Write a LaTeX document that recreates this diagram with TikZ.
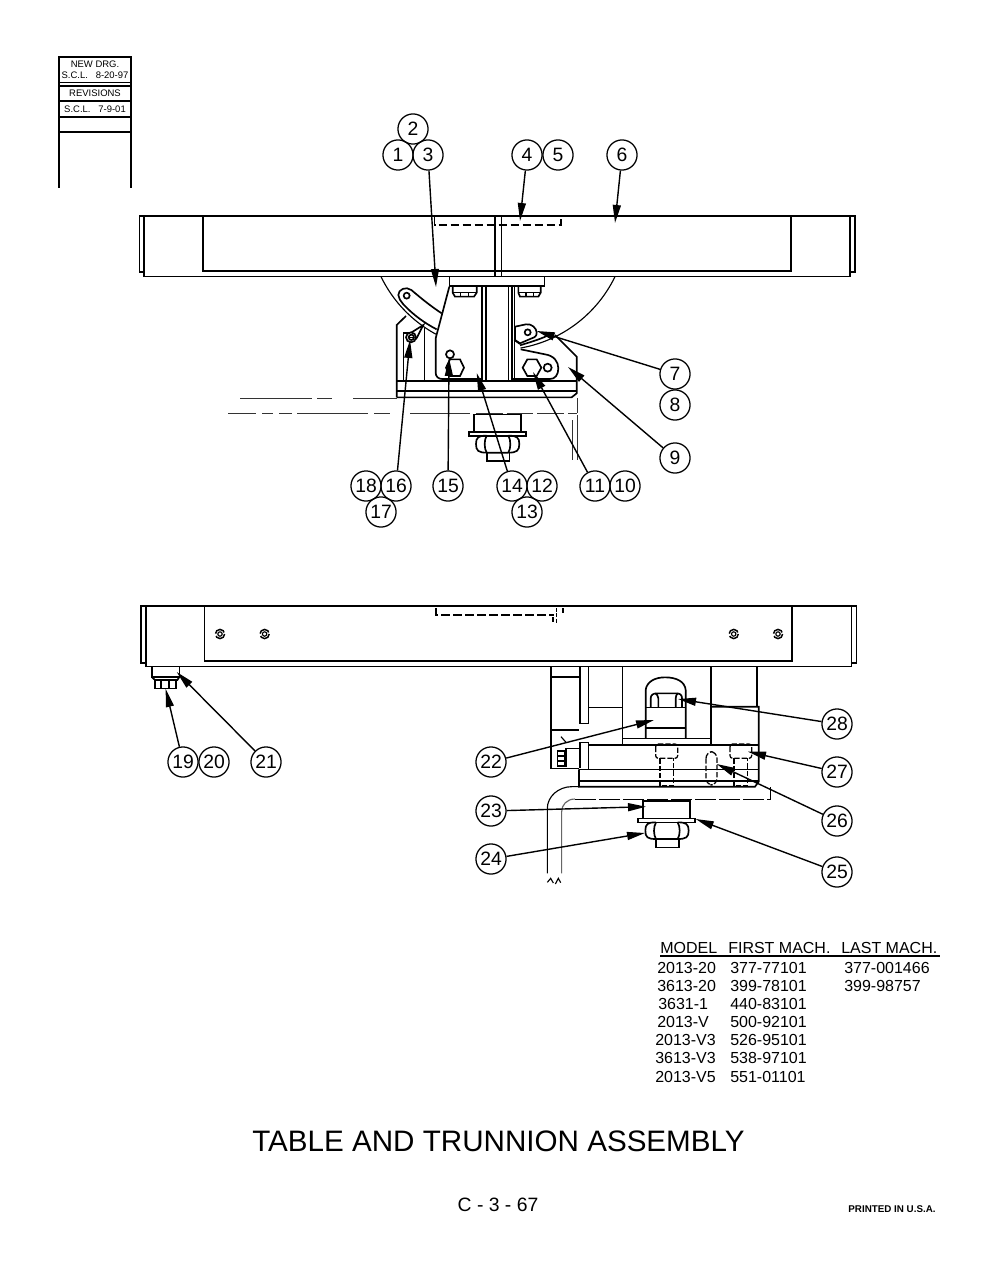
\documentclass[tikz,border=0pt]{standalone}
\usepackage{fontspec}
\setmainfont{Liberation Sans}
\usetikzlibrary{arrows.meta}
\tikzset{
  heavy/.style={line width=1.25pt,line join=miter},
  mid/.style={line width=0.85pt},
  thin/.style={line width=0.45pt,black!80},
  hidden/.style={line width=0.95pt,dash pattern=on 6.5pt off 2.5pt},
  hiddenb/.style={line width=0.95pt,dash pattern=on 4pt off 1.5pt},
  ctr/.style={line width=0.55pt,black!80},
  bub/.style={circle,draw,line width=0.95pt,minimum size=22.6pt,inner sep=0pt,font=\fontsize{14.5}{14.5}\selectfont},
  arr/.style={line width=1.05pt,-{Triangle[length=13.5pt,width=6pt]}},
  hdr/.style={font=\fontsize{7.1}{7.5}\selectfont,inner sep=0pt},
  tbl/.style={font=\fontsize{12}{12}\selectfont,inner sep=0pt,anchor=base west},
  zoomA/.style={shift={(370,260)},x=0.25pt,y=-0.25pt},
  zoomB/.style={shift={(530,660)},x=0.25pt,y=-0.25pt},
  zoomC/.style={shift={(130,595)},x=0.25pt,y=-0.25pt},
}
\begin{document}
\begin{tikzpicture}[x=0.75pt,y=-0.75pt]
\path[use as bounding box,fill=white] (0,0) rectangle (995,1287);

% revision block
\draw[heavy] (59,188) -- (59,57) -- (131,57) -- (131,188);
\foreach \yy in {82.5,86,100.7,116.7,132.3} \draw[heavy] (59,\yy) -- (131,\yy);
\node[hdr] (h1) at (95,64) {NEW DRG.};
\node[hdr] (h2) at (95,75.5) {S.C.L.\ \ \ 8-20-97};
\node[hdr] (h3) at (95,93) {REVISIONS};
\node[hdr] (h4) at (95,109) {S.C.L.\ \ \ 7-9-01};

% upper view: table
\draw[heavy] (144,216) -- (139.5,216) -- (139.5,272) -- (144,272);
\draw[heavy] (850,216) -- (855,216) -- (855,272) -- (850,272);
\draw[heavy] (139.5,216) -- (855,216);
\draw[heavy] (144,216) -- (144,276.5) -- (850,276.5) -- (850,216);
\draw[heavy] (203,216) -- (203,271) -- (791,271) -- (791,216);
\draw[heavy] (495,216) -- (495,276);
\draw[heavy] (501.5,216) -- (501.5,276);
\draw[hidden] (434.5,217) -- (434.5,225) -- (561,225) -- (561,217);

% upper view: swing circle
\draw[mid,domain=118.5:154.2,samples=30,variable=\a] plot ({498+130*cos(\a)},{220+130*sin(\a)});
\draw[mid,domain=26:80,samples=30,variable=\a] plot ({498+130*cos(\a)},{220+130*sin(\a)});

% upper view: center lines
\draw[ctr] (240,398) -- (312,398) (317,398) -- (332,398) (353,398) -- (397,398);
\draw[ctr] (228,413) -- (256,413) (262,413) -- (273,413) (279,413) -- (292,413) (297,413) -- (368,413) (374,413) -- (390,413) (410,413) -- (470,413);
\draw[ctr,dash pattern=on 20pt off 3pt] (476,413) -- (577,413);
\draw[ctr] (577,398) -- (577,413) (577,415) -- (577,460) (572,420) -- (572,460);

% upper view: trunnion, drawn in zoom coordinates
\begin{scope}[zoomA]
  \draw[heavy,fill=white] (238,50) rectangle (523,78);
  \draw[heavy] (248,80) -- (248,98) -- (255,110) -- (312,110) -- (320,98) -- (320,80);
  \draw[mid] (248,97) -- (320,97) (272,97) -- (272,110) (296,97) -- (296,110);
  \draw[heavy] (445,80) -- (445,98) -- (450,110) -- (505,110) -- (512,98) -- (512,80);
  \draw[mid] (445,97) -- (512,97) (468,97) -- (468,110) (490,97) -- (490,110);
  \draw[heavy] (248,80) -- (320,80) (445,80) -- (512,80);
  % column
  \foreach \xx in {335,347,415,425,433} \draw[heavy] (\xx,78) -- (\xx,360);
  % body
  \draw[heavy] (238,80) -- (197,235) -- (197,338) .. controls (197,350) and (205,357) .. (217,357) -- (335,357);
  \draw[heavy] (433,240) -- (450,252);
  \draw[heavy] (452,268) -- (525,283) .. controls (552,287) and (565,305) .. (565,325) .. controls (565,345) and (555,357) .. (540,357) -- (425,357);
  % base plate
  \draw[heavy] (80,362) -- (620,362);
  \draw[heavy] (80,393) -- (620,393);
  \draw[heavy] (80,412) -- (605,412) -- (620,400) -- (620,290) -- (555,225);
  \draw[heavy] (80,412) -- (80,195) -- (108,168);
  \draw[heavy] (118,218) -- (100,218) -- (100,360);
  \draw[heavy] (163,205) -- (163,360);
  % left link
  \draw[heavy] (215,160) .. controls (180,137) and (150,112) .. (124,90) .. controls (108,78) and (85,88) .. (85,105) .. controls (85,115) and (92,122) .. (100,133) .. controls (130,165) and (165,190) .. (200,208);
  \draw[heavy] (110,107) circle (9);
  % pin at left
  \draw[heavy] (123,232) circle (15);
  \draw[heavy] (124,232) circle (8);
  \draw[mid] (117,232) -- (131,232);
  \draw[heavy] (125,217) -- (160,195) -- (138,238);
  % hardware at left of body
  \draw[heavy] (240,283) circle (12);
  \draw[heavy] (240,298) -- (270,298) -- (282,323) -- (270,348) -- (240,348) -- (228,323) -- cycle;
  % right link
  \draw[heavy] (435,240) -- (435,200) -- (468,193) .. controls (485,190) and (500,205) .. (500,218) .. controls (500,228) and (495,232) .. (485,235) -- (450,250) -- (435,240);
  \draw[heavy] (473,217) circle (9);
  \draw[heavy] (450,256) .. controls (475,248) and (505,240) .. (530,228);
  % slot hardware
  \draw[heavy,fill=white] (458,323) -- (472,298) -- (500,298) -- (514,323) -- (500,348) -- (472,348) -- cycle;
  \draw[heavy] (533,323) circle (12);
  % nut under base
  \draw[heavy] (312,515) -- (312,463) -- (452,463) -- (452,515);
  \draw[heavy] (296,515) rectangle (468,527);
  \draw[heavy] (350,527) .. controls (325,527) and (318,532) .. (318,552) .. controls (318,572) and (325,578) .. (350,578) -- (415,578) .. controls (440,578) and (448,572) .. (448,552) .. controls (448,532) and (440,527) .. (415,527);
  \draw[heavy] (350,527) .. controls (342,540) and (342,565) .. (350,578);
  \draw[heavy] (415,527) .. controls (423,540) and (423,565) .. (415,578);
  \draw[heavy] (350,578) -- (350,603) -- (418,603) -- (418,578);
\end{scope}

% lower view: table
\draw[heavy] (146,606) -- (141,606) -- (141,662.7) -- (146,662.7);
\draw[heavy] (851.5,606) -- (856.5,606) -- (856.5,662.7) -- (851.5,662.7);
\draw[heavy] (141,606) -- (856.5,606);
\draw[heavy] (146,606) -- (146,666.5) -- (851.5,666.5) -- (851.5,606);
\draw[heavy] (204.5,606) -- (204.5,661) -- (792.3,661) -- (792.3,606);
\draw[hidden] (436,608) -- (436,615) -- (554,615);
\draw[hidden,dash pattern=on 3pt off 1pt] (556.5,608) -- (556.5,624);
\draw[heavy] (553.3,617) -- (553.3,622);
\draw[heavy] (562.7,608) -- (562.7,613);
% screws
\foreach \sx in {220,264.6,733.7,778} {
  \draw[mid] (\sx,634) circle (2.2);
  \draw[line width=1.1pt,dash pattern=on 9pt off 1.9pt] (\sx,634) circle (4.6);
}

% lower view: left bolt
\begin{scope}[zoomC]
  \draw[heavy] (65,216) -- (65,246) -- (148,246) -- (148,216);
  \draw[heavy] (65,246) -- (75,255) -- (142,255) -- (148,246);
  \draw[heavy] (75,255) -- (75,280) -- (138,280) -- (138,255);
  \draw[heavy] (92,255) -- (92,280) (116,255) -- (116,280);
\end{scope}

% lower view: assembly, drawn in zoom coordinates
\begin{scope}[zoomB]
  \draw[heavy] (63,20) -- (63,325) -- (147,325);
  \draw[heavy] (63,50) -- (147,50) (63,210) -- (147,210);
  \draw[heavy] (150,20) -- (150,190) -- (175,190) -- (175,20);
  \draw[heavy] (150,325) -- (150,247) -- (175,247) -- (175,327);
  \draw[mid] (93,230) -- (108,247);
  \draw[heavy] (147,265) -- (108,265) -- (108,322);
  \draw[heavy] (82,273) rectangle (105,318);
  \draw[mid] (82,288) -- (105,288) (82,303) -- (105,303);
  \draw[heavy] (175,142) -- (277,142);
  \draw[heavy] (277,20) -- (277,253);
  \draw[heavy] (277,235) -- (543,235);
  \draw[heavy] (543,20) -- (543,253);
  \draw[heavy] (680,20) -- (680,140);
  \draw[heavy] (543,140) -- (686,140) -- (686,365) -- (675,380) -- (147,380) -- (147,328);
  \draw[heavy] (175,255) -- (686,255);
  \draw[heavy] (147,328) -- (686,328);
  \draw[heavy] (147,362) -- (686,362);
  % strap and nut
  \draw[heavy] (347,235) -- (347,90) .. controls (350,65) and (375,52) .. (405,52) .. controls (440,52) and (465,65) .. (467,90) -- (467,235);
  \draw[heavy] (347,203) -- (467,203);
  \draw[heavy] (347,142) -- (467,142);
  \draw[heavy] (362,142) -- (362,115) .. controls (362,105) and (370,100) .. (380,100) -- (440,100) .. controls (450,100) and (456,105) .. (456,115) -- (456,142);
  \draw[heavy] (385,142) -- (385,115) .. controls (385,108) and (380,102) .. (376,100);
  \draw[heavy] (437,142) -- (437,115) .. controls (437,108) and (440,102) .. (444,100);
  % hidden bolts
  \draw[hiddenb,rounded corners=2pt] (377,252) rectangle (443,295);
  \draw[hiddenb] (390,295) -- (390,378) -- (430,378) -- (430,295);
  \draw[hiddenb,rounded corners=2pt] (600,252) rectangle (665,295);
  \draw[hiddenb] (612,295) -- (612,378) -- (653,378) -- (653,295);
  \draw[hiddenb,rounded corners=5pt] (528,275) rectangle (561,375);
  % cable guard
  \draw[mid] (147,380) -- (125,380) .. controls (85,380) and (52,410) .. (52,445) -- (52,640);
  \draw[mid,black!60] (135,417) .. controls (110,417) and (95,435) .. (95,455) -- (95,640);
  \draw[line width=0.65pt,dash pattern=on 16pt off 2pt] (135,417) -- (722,417);
  \draw[line width=0.65pt] (722,417) -- (722,380);
  \draw[mid] (52,667) -- (62,655) -- (70,669);
  \draw[mid] (76,672) -- (85,655) -- (92,668);
  % nut
  \draw[heavy,fill=white] (338,422) rectangle (480,475);
  \draw[heavy,fill=white] (323,475) rectangle (495,487);
  \draw[heavy] (378,487) .. controls (353,487) and (346,492) .. (346,512) .. controls (346,532) and (353,537) .. (378,537) -- (443,537) .. controls (468,537) and (476,532) .. (476,512) .. controls (476,492) and (468,487) .. (443,487);
  \draw[heavy] (378,487) .. controls (370,500) and (370,525) .. (378,537);
  \draw[heavy] (443,487) .. controls (451,500) and (451,525) .. (443,537);
  \draw[heavy] (378,537) -- (378,562) -- (446,562) -- (446,537);
\end{scope}

% balloons
\node[bub] (b2) at (413,129) {2};
\node[bub] (b1) at (398,155) {1};
\node[bub] (b3) at (428,155) {3};
\node[bub] (b4) at (527,155) {4};
\node[bub] (b5) at (558,155) {5};
\node[bub] (b6) at (622,155) {6};
\node[bub] (b7) at (675,374) {7};
\node[bub] (b8) at (675,405) {8};
\node[bub] (b9) at (675,458) {9};
\node[bub] (b18) at (366,486) {18};
\node[bub] (b16) at (396,486) {16};
\node[bub] (b17) at (381,512) {17};
\node[bub] (b15) at (448,486) {15};
\node[bub] (b14) at (512,486) {14};
\node[bub] (b12) at (542,486) {12};
\node[bub] (b13) at (527,512) {13};
\node[bub] (b11) at (595,486) {11};
\node[bub] (b10) at (625,486) {10};
\node[bub] (b19) at (183,762) {19};
\node[bub] (b20) at (214,762) {20};
\node[bub] (b21) at (266,762) {21};
\node[bub] (b22) at (491,762) {22};
\node[bub] (b23) at (491,811) {23};
\node[bub] (b24) at (491,859) {24};
\node[bub] (b25) at (837,872) {25};
\node[bub] (b26) at (837,821) {26};
\node[bub] (b27) at (837,772) {27};
\node[bub] (b28) at (837,724) {28};

% leader targets
\coordinate (t3) at (436,287);
\coordinate (t4) at (520,221);
\coordinate (t6) at (615,223);
\coordinate (t7) at (536.7,331);
\coordinate (t9) at (568,367);
\coordinate (t16) at (410,340);
\coordinate (t15) at (449,358);
\coordinate (t14) at (476.7,373);
\coordinate (t11) at (533,372);
\coordinate (t19) at (165.7,689);
\coordinate (t21) at (176.7,672);
\coordinate (t22) at (654,720);
\coordinate (t23) at (646,806.7);
\coordinate (t24) at (645,833);
\coordinate (t25) at (695.7,819);
\coordinate (t26) at (716.7,764);
\coordinate (t27) at (748,751.7);
\coordinate (t28) at (678,699);
\foreach \n in {3,4,6,7,9,16,15,14,11,19,21,22,23,24,25,26,27,28}
  \draw[arr] (b\n) -- (t\n);

% model table
\node[tbl] (th1) at (660,953.5) {MODEL};
\node[tbl] (th2) at (728,953.5) {FIRST MACH.};
\node[tbl] (th3) at (841,953.5) {LAST MACH.};
\draw[line width=1pt] (660,956) -- (940,956);
\node[tbl] (r1a) at (657,973.5) {2013-20};
\node[tbl] (r1b) at (730,973.5) {377-77101};
\node[tbl] (r1c) at (844,973.5) {377-001466};
\node[tbl] (r2a) at (657,991.5) {3613-20};
\node[tbl] (r2b) at (730,991.5) {399-78101};
\node[tbl] (r2c) at (844,991.5) {399-98757};
\node[tbl] (r3a) at (658,1009.5) {3631-1};
\node[tbl] (r3b) at (730,1009.5) {440-83101};
\node[tbl] (r4a) at (657,1027.5) {2013-V};
\node[tbl] (r4b) at (730,1027.5) {500-92101};
\node[tbl] (r5a) at (655,1045.5) {2013-V3};
\node[tbl] (r5b) at (730,1045.5) {526-95101};
\node[tbl] (r6a) at (655,1063.5) {3613-V3};
\node[tbl] (r6b) at (730,1063.5) {538-97101};
\node[tbl] (r7a) at (655,1082.5) {2013-V5};
\node[tbl] (r7b) at (730,1082.5) {551-01101};

% captions
\node[inner sep=0pt,font=\fontsize{22.2}{24}\selectfont] (title) at (498.5,1141) {TABLE AND TRUNNION ASSEMBLY};
\node[inner sep=0pt,font=\fontsize{14.5}{16}\selectfont] (page) at (498,1205) {C - 3 - 67};
\node[inner sep=0pt,font=\fontsize{7.35}{8}\selectfont\bfseries] (usa) at (892,1209) {PRINTED IN U.S.A.};
\end{tikzpicture}
\end{document}
